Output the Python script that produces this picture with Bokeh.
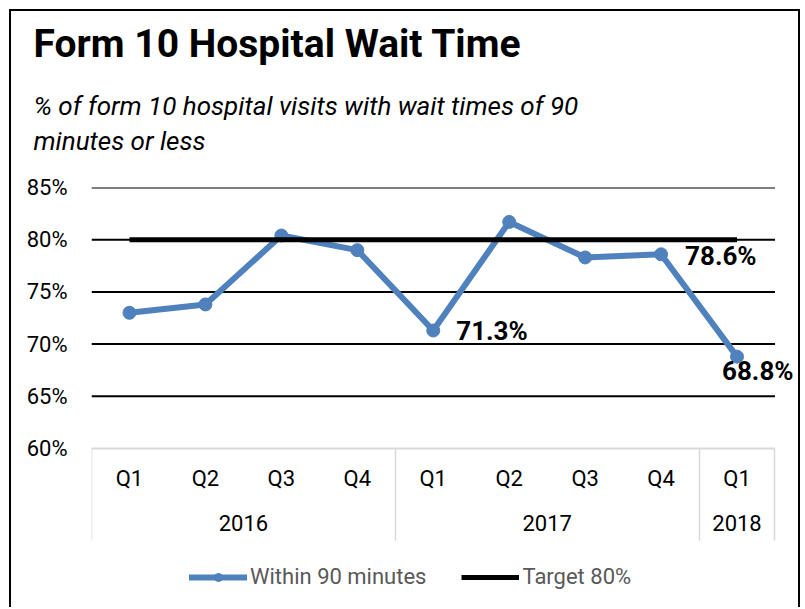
from bokeh.plotting import figure
from bokeh.models import (Range1d, LinearAxis, FixedTicker,
                          PrintfTickFormatter, ColumnDataSource, Legend, LegendItem, Title, Label)
from bokeh.embed import file_html
from bokeh.resources import INLINE

# ---------------- data ----------------
years = ["2016", "2016", "2016", "2016", "2017", "2017", "2017", "2017", "2018"]
quarters = ["Q1", "Q2", "Q3", "Q4", "Q1", "Q2", "Q3", "Q4", "Q1"]
within_90 = [73.0, 73.8, 80.4, 79.0, 71.3, 81.7, 78.3, 78.6, 68.8]
target_80 = [80, 80, 80, 80, 80, 80, 80, 80, 80]
y_ticks = [60, 65, 70, 75, 80, 85]
labelled_points = [4, 7, 8]

title_text = "Form 10 Hospital Wait Time"
subtitle_text = "% of form 10 hospital visits with wait times of 90\nminutes or less"
series_names = ["Within 90 minutes", "Target 80%"]

# ---------------- styling / layout ----------------
FONT = "Roboto"
BLUE = "#4F81BD"
label_dx = [23, 24, -15]
label_dy = [0, -2, -14]
RIGHT_PAD = 0.27          # room for data labels right of the category area
W, H = 791, 598
TOP, BOTTOM, LEFT, RIGHT = 176, 5, 80, 7
PX_PER_UNIT = 10.44       # vertical pixels per percentage point
frame_h = H - TOP - BOTTOM
y_low = y_ticks[-1] - frame_h / PX_PER_UNIT   # frame also hosts axis labels and legend

n = len(quarters)
x_pos = [i + 0.5 for i in range(n)]  # category centres on the category axis

p = figure(width=W, height=H, output_backend="svg", toolbar_location=None,
           x_range=Range1d(0, n + RIGHT_PAD), y_range=Range1d(y_low, y_ticks[-1]),
           x_axis_location=None, y_axis_location="left",
           min_border_left=LEFT, min_border_right=RIGHT, min_border_top=TOP,
           min_border_bottom=BOTTOM, title=None)
p.margin = (9, 0, 0, 9)
p.styles = {"border-top": "2px solid #000", "border-left": "2px solid #000",
            "border-right": "2px solid #000"}
p.outline_line_color = None
p.background_fill_color = "white"
p.border_fill_color = "white"
p.grid.visible = False

# titles
p.add_layout(Title(text=subtitle_text, text_font=FONT, text_font_style="italic",
                   text_font_size="26px", text_line_height=1.15, align="left",
                   offset=-58, standoff=64, text_color="black"), "above")
p.add_layout(Title(text=title_text, text_font=FONT, text_font_style="bold",
                   text_font_size="39px", align="left", offset=-58, standoff=-21,
                   text_color="black"), "above")

# horizontal gridlines over the category area (the 60% line is the light axis line)
grid_src = ColumnDataSource(dict(
    y=y_ticks, x0=[0] * len(y_ticks), x1=[n] * len(y_ticks),
    c=["#D9D9D9"] + ["black"] * (len(y_ticks) - 1)))
p.segment(x0="x0", y0="y", x1="x1", y1="y", source=grid_src, line_color="c", line_width=2)

# y axis
ya = p.yaxis[0]
ya.ticker = FixedTicker(ticks=y_ticks)
ya.formatter = PrintfTickFormatter(format="%d%%")
ya.axis_line_color = None
ya.major_tick_line_color = None
ya.minor_tick_line_color = None
ya.major_tick_out = 0
ya.major_tick_in = 0
ya.major_label_standoff = 24
ya.major_label_text_font = FONT
ya.major_label_text_font_size = "22px"
ya.major_label_text_color = "black"

# x axes at the 60% line: quarters (with group separators) and years
bounds = [0]
for i in range(1, n):
    if years[i] != years[i - 1]:
        bounds.append(i)
bounds.append(n)
year_names = [years[b] for b in bounds[:-1]]
year_centers = [(a + b) / 2 for a, b in zip(bounds[:-1], bounds[1:])]


def key(v):
    return int(v) if float(v).is_integer() else v


ax_q = LinearAxis(ticker=FixedTicker(ticks=x_pos, minor_ticks=bounds),
                  major_label_overrides={key(t): q for t, q in zip(x_pos, quarters)},
                  fixed_location=y_ticks[0])
ax_q.major_tick_out = 0
ax_q.major_tick_in = 0
ax_q.minor_tick_out = 92
ax_q.minor_tick_in = 0
ax_q.minor_tick_line_color = "#D9D9D9"
ax_q.minor_tick_line_width = 1.5
ax_q.axis_line_color = None
ax_q.major_label_standoff = -75
ax_q.major_label_text_font = FONT
ax_q.major_label_text_font_size = "22px"
ax_q.major_label_text_color = "black"

ax_y = LinearAxis(ticker=FixedTicker(ticks=year_centers),
                  major_label_overrides={key(c): y for c, y in zip(year_centers, year_names)},
                  fixed_location=y_ticks[0])
ax_y.axis_line_color = None
ax_y.major_tick_out = 0
ax_y.major_tick_in = 0
ax_y.major_tick_line_color = None
ax_y.minor_tick_line_color = None
ax_y.major_label_standoff = 66
ax_y.major_label_text_font = FONT
ax_y.major_label_text_font_size = "22px"
ax_y.major_label_text_color = "black"

p.add_layout(ax_q, "below")
p.add_layout(ax_y, "below")

# series
src = ColumnDataSource(dict(x=x_pos, y=within_90, t=target_80))
line_r = p.line("x", "y", source=src, line_color=BLUE, line_width=6,
                line_join="round", line_cap="round")
pts_r = p.scatter("x", "y", source=src, size=13, fill_color=BLUE, line_color=BLUE)
target_r = p.line("x", "t", source=src, line_color="black", line_width=5)

# data labels
for k, i in enumerate(labelled_points):
    p.add_layout(Label(x=x_pos[i], y=within_90[i], text=f"{within_90[i]:.1f}%",
                       x_offset=label_dx[k], y_offset=label_dy[k],
                       text_font=FONT, text_font_style="bold", text_font_size="26px",
                       text_align="left", text_baseline="middle", text_color="black"))

legend = Legend(items=[LegendItem(label=series_names[0], renderers=[line_r, pts_r]),
                       LegendItem(label=series_names[1], renderers=[target_r])],
                orientation="horizontal", location=(98, 15),
                glyph_width=58, glyph_height=20, label_standoff=3, spacing=35,
                padding=0, margin=0, border_line_color=None,
                background_fill_alpha=0,
                label_text_font=FONT, label_text_font_size="22px",
                label_text_color="#595959")
p.add_layout(legend)

open("out.html", "w").write(file_html(p, INLINE))
